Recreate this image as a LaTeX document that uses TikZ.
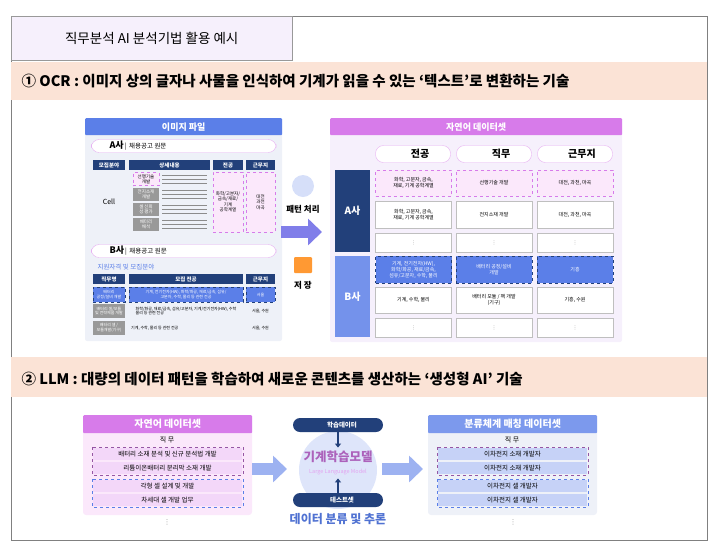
\documentclass[tikz,border=0pt]{standalone}
\usepackage{fontspec}
\setmainfont{Noto Sans CJK KR}
\newfontfamily\symfont{DejaVu Sans}
\usepackage{tikz}
\usetikzlibrary{positioning}
\usetikzlibrary{arrows.meta}
\usetikzlibrary{shapes}
\usetikzlibrary{calc}
\definecolor{peach}{HTML}{FBE3D6}
\definecolor{navy}{HTML}{22407A}
\definecolor{blueA}{HTML}{5B7FE8}
\definecolor{purp}{HTML}{D77BEA}
\definecolor{lav}{HTML}{F6F0FC}
\definecolor{grayb}{HTML}{EEF1F8}
\definecolor{pinkc}{HTML}{FBE8FB}
\newcommand{\vdot}{{\symfont ⋮}}
\begin{document}
\begin{tikzpicture}[x=1pt,y=-1pt,
      band style/.style={fill=peach,draw=none},
      bar style/.style={fill=#1,draw=none,rounded corners=1pt,text=white,font=\bfseries\fontsize{9}{10}\selectfont},
      th style/.style={fill=navy,text=white,font=\bfseries\fontsize{5.5}{6}\selectfont,inner sep=0pt},
      cell style/.style={draw=black!25,fill=white,align=center,font=\fontsize{5}{6}\selectfont,inner sep=0pt},
      pink style/.style={cell style,draw=purp,dashed,fill=pinkc},
      blue style/.style={cell style,draw=navy,dashed,fill=blueA,text=white},
      pill style/.style={draw=purp!60,fill=white,rounded corners=8pt},
      row style/.style={fill=#1,align=center,font=\fontsize{6.5}{7}\selectfont,inner sep=0pt},
      big arrow/.style={-{Triangle[length=14pt,width=26pt]},line width=12pt,draw=#1}
      ]
      \useasboundingbox (0,0) rectangle (718,558);
      \draw[black!50] (11,16) rectangle (707,540);
      \node[fill=lav,draw=black!40,minimum width=281pt,minimum height=44pt,anchor=north west,
        font=\fontsize{13.5}{15}\selectfont] (title) at (11,16) {직무분석 AI 분석기법 활용 예시};

      % section one
      \fill[band style] (11,62) rectangle (707,100);
      \node[anchor=west,font=\bfseries\fontsize{14.5}{16}\selectfont] (ocr) at (18,81)
        {① OCR : 이미지 상의 글자나 사물을 인식하여 기계가 읽을 수 있는 ‘텍스트’로 변환하는 기술};

      % image file panel
      \fill[grayb,rounded corners=2pt] (85,118) rectangle (282,341);
      \node[bar style=blueA,minimum width=197pt,minimum height=17pt,anchor=north west] (imgbar) at (85,118) {이미지 파일};
      \node[pill style,minimum width=185pt,minimum height=13pt,anchor=west] (apill) at (91,146) {};
      \node[anchor=west,font=\fontsize{6.5}{7}\selectfont] (atxt) at (106,146) {\textbf{\fontsize{9}{10}\selectfont A사}\,|\, 채용공고 원문};
      \node[th style,minimum width=32pt,minimum height=10pt] (h1) at (109,165) {모집분야};
      \node[th style,minimum width=81pt,minimum height=10pt] (h2) at (169.5,165) {상세내용};
      \node[th style,minimum width=30pt,minimum height=10pt] (h3) at (228,165) {전공};
      \node[th style,minimum width=29pt,minimum height=10pt] (h4) at (260.5,165) {근무지};
      \node[font=\fontsize{7}{8}\selectfont] (cell) at (109,202) {Cell};
      \foreach \y/\t in {179/선행기술\\개발,194/전지소재\\개발,209/셀 신뢰\\성 평가,224/배터리\\해석}{
        \node[row style=black!40,text=white,minimum width=26pt,minimum height=13pt,font=\fontsize{4.5}{5}\selectfont] at (146,\y) {\t};
        \foreach \k in {-4,0,4}
          \draw[black!45,line width=0.8pt] (162,\y+\k) -- (207,\y+\k);
      }
      \node[pink style,minimum width=26pt,minimum height=13pt,text=black,font=\fontsize{4.5}{5}\selectfont] (lab1) at (146,179) {선행기술\\개발};
      \node[pink style,minimum width=30pt,minimum height=60pt,font=\fontsize{4.5}{5.5}\selectfont] (majA) at (228,202) {화학/고분자/\\금속/재료/\\기계\\공학계열};
      \node[pink style,minimum width=29pt,minimum height=60pt,font=\fontsize{4.5}{5.5}\selectfont] (locA) at (260.5,202) {대전\\과천\\마곡};
      \node[pill style,minimum width=185pt,minimum height=13pt,anchor=west] (bpill) at (91,251) {};
      \node[anchor=west,font=\fontsize{6.5}{7}\selectfont] (btxt) at (106,251) {\textbf{\fontsize{9}{10}\selectfont B사}\,|\, 채용공고 원문};
      \node[anchor=west,text=blueA,font=\fontsize{6.5}{7}\selectfont] (qual) at (94,267) {지원자격 및 모집분야};
      \node[th style,minimum width=32pt,minimum height=10pt] (g1) at (109,279) {직무명};
      \node[th style,minimum width=114pt,minimum height=10pt] (g2) at (186,279) {모집 전공};
      \node[th style,minimum width=29pt,minimum height=10pt] (g3) at (260.5,279) {근무지};
      \node[blue style,minimum width=32pt,minimum height=15pt,font=\fontsize{4}{4.8}\selectfont] (b11) at (109,294.5) {배터리\\공정/설비 개발};
      \node[blue style,minimum width=114pt,minimum height=15pt,font=\fontsize{4}{4.8}\selectfont] (b12) at (186,294.5) {기계, 전기전자(HW), 화학/화공, 재료/금속, 섬유/\\고분자, 수학, 물리 등 관련 전공};
      \node[blue style,minimum width=29pt,minimum height=15pt,font=\fontsize{4}{4.8}\selectfont] (b13) at (260.5,294.5) {서울};
      \node[row style=black!40,text=white,minimum width=32pt,minimum height=14pt,font=\fontsize{4}{4.8}\selectfont] (b21) at (109,311) {배터리 셀/모듈\\및 전략제품 개발};
      \node[cell style,draw=none,fill=none,font=\fontsize{4}{4.8}\selectfont,align=left] (b22) at (186,311) {화학/화공, 재료/금속, 섬유/고분자, 기계/전기전자(HW), 수학\\물리 등 관련 전공};
      \node[cell style,draw=none,fill=none,font=\fontsize{4}{4.8}\selectfont] (b23) at (260.5,311) {서울, 수원};
      \node[row style=black!40,text=white,minimum width=32pt,minimum height=14pt,font=\fontsize{4}{4.8}\selectfont] (b31) at (109,328) {배터리 셀 /\\모듈개발(기구)};
      \node[cell style,draw=none,fill=none,anchor=west,font=\fontsize{4}{4.8}\selectfont] (b32) at (131,328) {기계, 수학, 물리 등 관련 전공};
      \node[cell style,draw=none,fill=none,font=\fontsize{4}{4.8}\selectfont] (b33) at (260.5,328) {서울, 수원};

      % middle
      \node[circle,fill=blueA!25,minimum size=22pt] (pic) at (303,186) {};
      \node[font=\bfseries\fontsize{8.5}{9}\selectfont] (pattern) at (303,209) {패턴 처리};
      \draw[big arrow=blueA!70!purp] (281,232) -- (322,232);
      \node[fill=orange!80,rounded corners=1pt,minimum width=18pt,minimum height=16pt] (folder) at (303,265) {};
      \node[font=\bfseries\fontsize{8.5}{9}\selectfont] (store) at (303,285) {저 장};

      % natural language dataset
      \fill[lav,rounded corners=2pt] (330,118) rectangle (622,342);
      \node[bar style=purp,minimum width=292pt,minimum height=17pt,anchor=north west] (nlbar) at (330,118) {자연어 데이터셋};
      \node[pill style,minimum width=75pt,minimum height=17pt,font=\bfseries\fontsize{10}{11}\selectfont] (c1) at (413,154) {\hspace{14pt}전공};
      \node[pill style,minimum width=75pt,minimum height=17pt,font=\bfseries\fontsize{10}{11}\selectfont] (c2) at (494,154) {\hspace{14pt}직무};
      \node[pill style,minimum width=75pt,minimum height=17pt,font=\bfseries\fontsize{10}{11}\selectfont] (c3) at (575,154) {\hspace{14pt}근무지};
      \node[fill=navy,text=white,minimum width=35pt,minimum height=82pt,font=\bfseries\fontsize{10}{11}\selectfont] (ra) at (352.5,211) {A사};
      \node[fill=blueA!85,text=white,minimum width=35pt,minimum height=81pt,font=\bfseries\fontsize{10}{11}\selectfont] (rb) at (352.5,296.5) {B사};
      \foreach \x in {413.5,494,575} {
        \node[cell style,minimum width=76pt,minimum height=19pt,text=black!40] at (\x,242.5) {\vdot};
        \node[cell style,minimum width=76pt,minimum height=19pt,text=black!40] at (\x,327.5) {\vdot};
      }
      \node[pink style,minimum width=76pt,minimum height=26pt] (a11) at (413.5,183) {화학, 고분자, 금속,\\재료, 기계 공학계열};
      \node[pink style,minimum width=76pt,minimum height=26pt] (a12) at (494,183) {선행기술 개발};
      \node[pink style,minimum width=76pt,minimum height=26pt] (a13) at (575,183) {대전, 과천, 마곡};
      \node[cell style,minimum width=76pt,minimum height=27pt] (a21) at (413.5,214.5) {화학, 고분자, 금속,\\재료, 기계 공학계열};
      \node[cell style,minimum width=76pt,minimum height=27pt] (a22) at (494,214.5) {전지소재 개발};
      \node[cell style,minimum width=76pt,minimum height=27pt] (a23) at (575,214.5) {대전, 과천, 마곡};
      \node[blue style,minimum width=76pt,minimum height=27pt] (bb1) at (413.5,269.5) {기계, 전기전자(HW),\\화학/화공, 재료/금속,\\섬유/고분자, 수학, 물리};
      \node[blue style,minimum width=76pt,minimum height=27pt] (bb2) at (494,269.5) {배터리 공정/설비\\개발};
      \node[blue style,minimum width=76pt,minimum height=27pt] (bb3) at (575,269.5) {기흥};
      \node[cell style,minimum width=76pt,minimum height=26pt] (bc1) at (413.5,300) {기계, 수학, 물리};
      \node[cell style,minimum width=76pt,minimum height=26pt] (bc2) at (494,300) {배터리 모듈 / 팩 개발\\(기구)};
      \node[cell style,minimum width=76pt,minimum height=26pt] (bc3) at (575,300) {기흥, 수원};

      % section two
      \fill[band style] (11,357) rectangle (707,397);
      \node[anchor=west,font=\bfseries\fontsize{14.5}{16}\selectfont] (llm) at (18,379)
        {② LLM : 대량의 데이터 패턴을 학습하여 새로운 콘텐츠를 생산하는 ‘생성형 AI’ 기술};

      \fill[pinkc,rounded corners=3pt] (83,415) rectangle (252,515);
      \node[bar style=purp,minimum width=169pt,minimum height=18pt,anchor=north west,font=\bfseries\fontsize{10}{11}\selectfont] (nl2) at (83,415) {자연어 데이터셋};
      \node[font=\fontsize{7}{8}\selectfont] (job1) at (167,440) {직 무};
      \draw[purp!70!black,dashed] (92,447) rectangle (243,475);
      \draw[blueA,dashed] (92,479) rectangle (243,507);
      \foreach \y/\t in {454/배터리 소재 분석 및 신규 분석법 개발,468/리튬이온배터리 분리막 소재 개발,486/각형 셀 설계 및 개발,500/차세대 셀 개발 업무}
        \node[row style=purp!30,minimum width=149pt,minimum height=12pt] at (167.5,\y) {\t};
      \node[font=\fontsize{7}{8}\selectfont,black!40] (d1) at (167,522) {\vdot};

      \draw[big arrow=blueA!60] (252,469) -- (287,469);
      \node[circle,fill=blueA!20,minimum size=78pt] (model) at (338,470) {};
      \node[fill=navy,text=white,rounded corners=7pt,minimum width=90pt,minimum height=14pt,
        font=\bfseries\fontsize{6.5}{7}\selectfont] (train) at (338,425) {\hspace{8pt}학습데이터};
      \node[fill=navy,text=white,rounded corners=7pt,minimum width=90pt,minimum height=14pt,
        font=\bfseries\fontsize{6.5}{7}\selectfont] (test) at (338,500) {\hspace{8pt}테스트셋};
      \node[text=purp!80!black,font=\bfseries\fontsize{12.5}{14}\selectfont] (mlm) at (338,457) {기계학습모델};
      \node[text=purp!70,font=\fontsize{5.5}{6}\selectfont] (llmtxt) at (338,472) {Large Language Model};
      \draw[-{Triangle[length=4pt,width=6pt]},navy,line width=1.2pt] (train) -- (mlm);
      \draw[-{Triangle[length=4pt,width=6pt]},navy,line width=1.2pt] (test) -- (llmtxt);
      \node[text=blueA!80!navy,font=\bfseries\fontsize{12}{14}\selectfont] (infer) at (338,519) {데이터 분류 및 추론};

      \draw[big arrow=blueA!60] (382,469) -- (423,469);
      \fill[grayb,rounded corners=3pt] (428,415) rectangle (597,515);
      \node[bar style=blueA!80,minimum width=169pt,minimum height=18pt,anchor=north west,font=\bfseries\fontsize{10}{11}\selectfont] (map) at (428,415) {분류체계 매칭 데이터셋};
      \node[font=\fontsize{7}{8}\selectfont] (job2) at (512,440) {직 무};
      \draw[purp!70!black,dashed] (437,447) rectangle (588,475);
      \draw[blueA,dashed] (437,479) rectangle (588,507);
      \foreach \y/\t in {454/이차전지 소재 개발자,468/이차전지 소재 개발자,486/이차전지 셀 개발자,500/이차전지 셀 개발자}
        \node[row style=blueA!35,minimum width=149pt,minimum height=12pt] at (512.5,\y) {\t};
      \node[font=\fontsize{7}{8}\selectfont,black!40] (d2) at (513,522) {\vdot};
    \end{tikzpicture}
\end{document}
